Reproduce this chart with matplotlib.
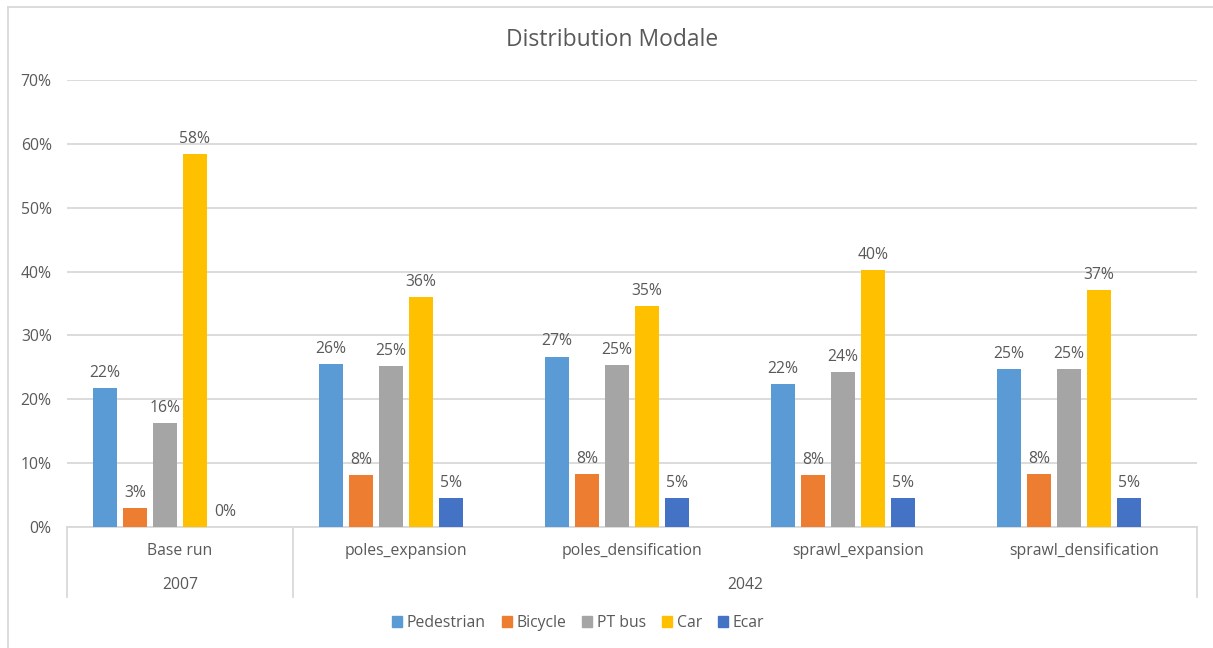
import matplotlib
matplotlib.use("Agg")
import matplotlib.pyplot as plt
from matplotlib.lines import Line2D

plt.rcParams['font.family'] = ['Open Sans', 'DejaVu Sans']

categories = ["Base run", "poles_expansion", "poles_densification", "sprawl_expansion", "sprawl_densification"]
years = ["2007", "2042"]
series = ["Pedestrian", "Bicycle", "PT bus", "Car", "Ecar"]
pedestrian = [0.218, 0.255, 0.267, 0.224, 0.248]
bicycle = [0.030, 0.081, 0.083, 0.081, 0.083]
pt_bus = [0.163, 0.252, 0.254, 0.242, 0.248]
car = [0.584, 0.360, 0.346, 0.402, 0.371]
ecar = [0.0, 0.046, 0.046, 0.046, 0.046]
values = [pedestrian, bicycle, pt_bus, car, ecar]
colors = ["#5B9BD5", "#ED7D31", "#A5A5A5", "#FFC000", "#4472C4"]
yticks = [0, 0.1, 0.2, 0.3, 0.4, 0.5, 0.6, 0.7]

W, H = 1213, 648
fig = plt.figure(figsize=(W / 100, H / 100), dpi=100)
L, R, T, B = 67, 1197, 80, 527
ax = fig.add_axes([L / W, (H - B) / H, (R - L) / W, (B - T) / H])

text_col = "#595959"
grid_col = "#D9D9D9"
fs = 11.3
step = 30 / 226
width = 23.5 / 226
xs = list(range(len(categories)))
for i, (name, vals, c) in enumerate(zip(series, values, colors)):
    off = (i - 2.5) * step
    pos = [x + off for x in xs]
    ax.bar(pos, vals, width=width, color=c, label=name, zorder=3)
    for p, v in zip(pos, vals):
        ax.text(p, v + 0.011, f"{round(v * 100):.0f}%", ha="center", va="bottom",
                fontsize=fs, color=text_col, zorder=4)

ax.set_xlim(-0.5, len(categories) - 0.5)
ax.set_ylim(0, 0.7)
ax.set_yticks(yticks)
ax.set_yticklabels([f"{int(round(t * 100))}%" for t in yticks])
ax.tick_params(axis="y", length=0, pad=11, labelsize=fs, labelcolor=text_col)
ax.set_xticks([])
ax.grid(axis="y", color=grid_col, linewidth=1.3, zorder=0)
for s in ax.spines.values():
    s.set_visible(False)

# category axis
xt = ax.get_xaxis_transform()
ax.plot([-0.5, len(categories) - 0.5], [0, 0], color=grid_col, lw=1.3, transform=xt, clip_on=False, zorder=2)
low = (B - 597) / (B - T)
for xsep in [-0.5, 0.5, len(categories) - 0.5]:
    ax.plot([xsep, xsep], [0, low], color=grid_col, lw=1.3, transform=xt, clip_on=False)
y1 = (B - 551) / (B - T)
y2 = (B - 585) / (B - T)
for x, cat in zip(xs, categories):
    ax.text(x, y1, cat, ha="center", va="center", fontsize=fs, color=text_col, transform=xt)
ax.text(0, y2, years[0], ha="center", va="center", fontsize=fs, color=text_col, transform=xt)
ax.text(2.5, y2, years[1], ha="center", va="center", fontsize=fs, color=text_col, transform=xt)

# title
fig.text(612 / W, 1 - 40 / H, "Distribution Modale", ha="center", va="center", fontsize=16.5, color=text_col)

# legend
handles = [plt.Rectangle((0, 0), 1, 1, color=c) for c in colors]
leg = fig.legend(handles, series, loc="center", bbox_to_anchor=(578 / W, 1 - 623 / H), ncol=5,
                 frameon=False, fontsize=fs, handlelength=0.65, handleheight=0.65,
                 handletextpad=0.3, columnspacing=1.0)
for t in leg.get_texts():
    t.set_color(text_col)

# chart border (left and top)
fig.add_artist(Line2D([8 / W, 8 / W], [0, 1 - 7 / H], color=grid_col, lw=1.3, transform=fig.transFigure))
fig.add_artist(Line2D([8 / W, 1], [1 - 7 / H, 1 - 7 / H], color=grid_col, lw=1.3, transform=fig.transFigure))

fig.savefig("out.png", dpi=100)
